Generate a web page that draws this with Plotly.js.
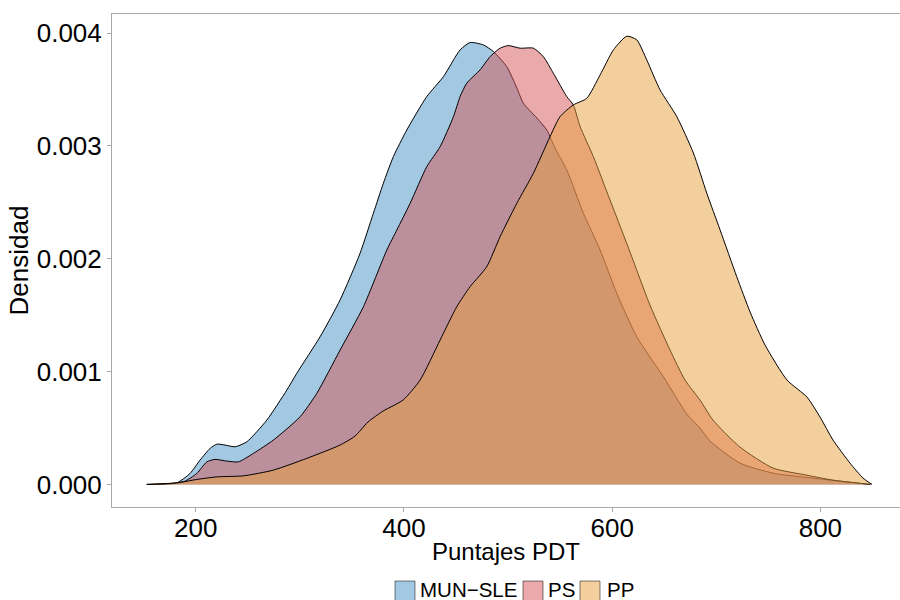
<!DOCTYPE html>
<html>
<head>
<meta charset="utf-8">
<script src="https://cdn.plot.ly/plotly-3.0.1.min.js"></script>
<style>html,body{margin:0;padding:0;background:#fff;}</style>
</head>
<body>
<div id="chart" style="width:900px;height:600px;"></div>
<script>
// ---- Data (density values) ----
const seriesNames = ["MUN\u2212SLE", "PS", "PP"];

const munX = [152.9,181.7,194.5,204.1,213.7,220.2,228.1,237.8,249.0,268.2,287.4,297.0,319.4,338.6,357.8,370.6,380.2,389.8,402.7,421.9,437.9,453.9,463.5,476.3,485.9,498.7,508.4,514.7,527.6,537.2,545.2,556.4,572.3,588.4,604.4,623.6,649.2,671.7,684.4,694.0,722.8,754.5,792.9,818.9,848.0];
const munY = [0,0.014,0.098,0.216,0.319,0.357,0.349,0.334,0.378,0.570,0.836,0.985,1.309,1.635,2.049,2.404,2.670,2.906,3.142,3.438,3.615,3.852,3.917,3.896,3.837,3.704,3.515,3.379,3.249,3.142,2.980,2.788,2.404,2.078,1.694,1.309,0.954,0.624,0.499,0.384,0.189,0.100,0.056,0.029,0];

const psX = [152.9,188.1,201.0,210.6,218.5,229.8,240.9,255.3,274.5,300.2,316.2,338.6,361.0,383.5,393.1,405.9,421.9,434.7,447.5,453.9,460.3,473.1,482.7,492.3,500.3,511.5,524.3,533.9,543.5,556.4,562.7,569.2,581.9,597.9,614.0,636.3,655.6,670.0,684.4,696.9,722.8,754.5,787.1,812.1,848.0];
const psY = [0,0.023,0.098,0.200,0.222,0.207,0.200,0.275,0.393,0.600,0.807,1.191,1.575,2.078,2.255,2.492,2.817,2.994,3.260,3.438,3.557,3.675,3.792,3.867,3.890,3.867,3.867,3.792,3.645,3.438,3.364,3.172,2.906,2.522,2.137,1.590,1.191,0.925,0.748,0.570,0.331,0.145,0.082,0.038,0];

const ppX = [152.9,181.7,201.0,220.2,245.7,274.5,306.6,338.6,352.9,365.4,379.9,399.1,415.5,434.7,450.7,463.5,479.5,492.3,508.4,524.3,540.3,549.9,562.7,575.6,588.4,601.2,614.0,623.6,633.2,646.0,662.1,678.0,690.9,703.7,719.7,732.5,746.9,768.0,787.2,799.7,812.2,828.5,841.0,849.6];
const ppY = [0,0.014,0.044,0.067,0.076,0.127,0.231,0.349,0.428,0.553,0.650,0.748,0.925,1.280,1.575,1.753,1.930,2.196,2.492,2.758,3.083,3.260,3.364,3.423,3.630,3.852,3.973,3.941,3.763,3.497,3.260,2.938,2.581,2.255,1.841,1.528,1.235,0.925,0.774,0.597,0.393,0.189,0.056,0];

const xTickVals = [200, 400, 600, 800];
const xTickText = ["200", "400", "600", "800"];
const yTickVals = [0, 0.001, 0.002, 0.003, 0.004];
const yTickText = ["0.000", "0.001", "0.002", "0.003", "0.004"];

// ---- Styling ----
const fillColors = ["rgba(71,145,197,0.5)", "rgba(213,85,87,0.5)", "rgba(231,159,61,0.5)"];
const FONT = "Liberation Sans, Arial, Helvetica, sans-serif";
const GREY = "#a8a8a8";

const xs = [munX, psX, ppX];
const ys = [munY, psY, ppY].map(a => a.map(v => v / 1000));

const traces = seriesNames.map((n, i) => ({
  type: "scatter",
  mode: "lines",
  name: n,
  x: xs[i],
  y: ys[i],
  fill: "tozeroy",
  fillcolor: fillColors[i],
  line: {color: "#000", width: 1, shape: "spline", smoothing: 0.6},
  showlegend: false,
  hoverinfo: "skip"
}));

// ---- Manual legend (square keys like the reference) ----
const W = 900, H = 600, ML = 112, MR = 0, MT = 14, MB = 93;
const pw = W - ML - MR, ph = H - MT - MB;
const px2x = p => (p - ML) / pw;
const py2y = p => (H - MB - p) / ph;
const keyLeft = [395, 523, 580];
const textLeft = [418, 546, 605];
const keyTop = 581, keyBottom = 601, textMid = 589;

const shapes = seriesNames.map((n, i) => ({
  type: "rect", xref: "paper", yref: "paper",
  x0: px2x(keyLeft[i]), x1: px2x(keyLeft[i] + 20),
  y0: py2y(keyBottom), y1: py2y(keyTop),
  fillcolor: fillColors[i],
  line: {color: "rgba(0,0,0,0.5)", width: 1}
}));
const annotations = seriesNames.map((n, i) => ({
  xref: "paper", yref: "paper",
  x: px2x(textLeft[i]), y: py2y(textMid),
  xanchor: "left", yanchor: "middle",
  text: n, showarrow: false,
  font: {family: FONT, size: 20.5, color: "#000"}
}));

const layout = {
  width: W, height: H,
  margin: {l: ML, r: MR, t: MT, b: MB, pad: 0},
  paper_bgcolor: "#fff", plot_bgcolor: "#fff",
  font: {family: FONT, color: "#000"},
  showlegend: false,
  xaxis: {
    range: [119.5, 876.5],
    tickvals: xTickVals, ticktext: xTickText,
    ticks: "outside", ticklen: 4, tickcolor: GREY, tickwidth: 1,
    ticklabelstandoff: -6,
    showline: true, mirror: true, linecolor: GREY, linewidth: 1,
    showgrid: false, zeroline: false,
    tickfont: {family: FONT, size: 26, color: "#000"},
    title: {text: "Puntajes PDT", font: {family: FONT, size: 24, color: "#000"}, standoff: 0},
    automargin: false
  },
  yaxis: {
    range: [-0.0002, 0.00417],
    tickvals: yTickVals, ticktext: yTickText,
    ticks: "outside", ticklen: 4, tickcolor: GREY, tickwidth: 1,
    showline: true, mirror: false, linecolor: GREY, linewidth: 1,
    showgrid: false, zeroline: false,
    tickfont: {family: FONT, size: 26, color: "#000"},
    title: {text: "Densidad", font: {family: FONT, size: 26, color: "#000"}, standoff: 0},
    automargin: false
  },
  shapes: shapes,
  annotations: annotations
};

Plotly.newPlot("chart", traces, layout, {displayModeBar: false, staticPlot: true});
</script>
</body>
</html>
